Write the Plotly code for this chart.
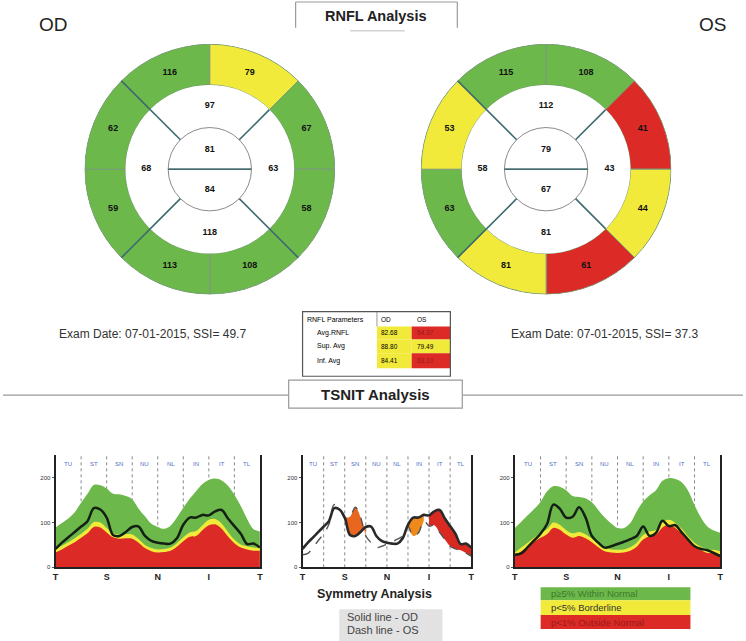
import plotly.graph_objects as go

W, H = 746, 641
def px(x): return x / W
def py(y): return 1 - y / H

# ---------------- DATA ----------------
od_sectors = ["ST", "SN", "NU", "NL", "IN", "IT", "TL", "TU"]
od_sector_vals = [116, 79, 67, 58, 108, 113, 59, 62]
od_sector_class = ["G", "Y", "G", "G", "G", "G", "G", "G"]
od_quadrant_vals = [97, 63, 118, 68]          # superior, right, inferior, left
od_center_vals = [81, 84]                      # upper, lower

os_sectors = ["SN", "ST", "TU", "TL", "IT", "IN", "NL", "NU"]
os_sector_vals = [115, 108, 41, 44, 61, 81, 63, 53]
os_sector_class = ["G", "G", "R", "Y", "R", "Y", "G", "Y"]
os_quadrant_vals = [112, 43, 81, 58]
os_center_vals = [79, 67]

sector_theta = [112.5, 67.5, 22.5, -22.5, -67.5, -112.5, -157.5, 157.5]
quadrant_theta = [90, 0, 270, 180]

exam_od = "Exam Date: 07-01-2015, SSI= 49.7"
exam_os = "Exam Date: 07-01-2015, SSI= 37.3"

table_rows = ["RNFL Parameters", "Avg.RNFL", "Sup. Avg", "Inf. Avg"]
table_od = ["OD", "82.68", "88.80", "84.41"]
table_os = ["OS", "64.37", "79.49", "63.10"]
table_od_class = ["H", "Y", "Y", "Y"]
table_os_class = ["H", "R", "Y", "R"]

tsnit_x = [0, 8, 16, 24, 32, 40, 48, 56, 64, 72, 80, 88, 96, 104, 112, 120, 128,
           136, 144, 152, 160, 168, 176, 184, 192, 200, 208, 216, 224, 232, 240, 248, 256]
tsnit_ticks = [0, 64, 128, 192, 256]
tsnit_ticktext = ["T", "S", "N", "I", "T"]
tsnit_sector_labels = ["TU", "ST", "SN", "NU", "NL", "IN", "IT", "TL"]

od_p95 = [89, 99, 109, 123, 144, 164, 184, 183, 176, 164, 163, 159, 152, 131, 114, 97, 90,
          86, 93, 111, 133, 153, 170, 186, 195, 198, 194, 182, 162, 137, 108, 85, 80]
od_p5 = [40, 48, 56, 65, 75, 86, 101, 100, 88, 76, 73, 74, 73, 63, 50, 43, 40,
         41, 44, 54, 67, 78, 81, 94, 106, 108, 98, 79, 62, 51, 47, 44, 44]
od_p1 = [33, 40, 48, 56, 66, 76, 90, 89, 78, 67, 64, 65, 64, 55, 43, 36, 33,
         34, 37, 46, 58, 68, 70, 83, 94, 96, 86, 69, 54, 44, 40, 37, 37]
od_thick = [41, 55, 67, 79, 91, 103, 132, 129, 111, 72, 70, 79, 90, 91, 70, 59, 55,
            53, 53, 65, 95, 111, 111, 117, 116, 125, 128, 109, 92, 75, 52, 53, 44]

os_p95 = [88, 102, 116, 130, 146, 169, 181, 180, 172, 159, 157, 154, 145, 128, 111, 98, 88,
          88, 99, 125, 147, 161, 172, 193, 199, 197, 190, 171, 139, 111, 91, 82, 77]
os_p5 = [33, 44, 55, 66, 76, 85, 100, 95, 83, 76, 79, 74, 64, 53, 44, 40, 39,
         40, 45, 55, 72, 80, 83, 100, 106, 99, 86, 69, 55, 46, 40, 39, 36]
os_p1 = [25, 36, 46, 57, 66, 74, 88, 84, 73, 66, 70, 65, 56, 45, 36, 33, 32,
         33, 37, 46, 62, 70, 73, 89, 95, 88, 76, 60, 47, 38, 32, 32, 29]
os_thick = [28, 31, 45, 60, 75, 96, 140, 131, 111, 113, 134, 112, 70, 55, 44, 47, 52,
            57, 63, 70, 91, 70, 77, 104, 92, 94, 78, 62, 47, 41, 38, 32, 25]

# asymmetry regions (index ranges on tsnit_x) for the symmetry chart
asym_regions = [(8, 12), (20, 23), (24, 32)]
asym_colors = ["#e8661e", "#ef8a1a", "#d92a22"]

legend_labels = ["p\u22655% Within Normal", "p<5% Borderline", "p<1% Outside Normal"]

# ---------------- STYLE ----------------
GREEN, YELLOW, RED = "#6cb84b", "#f2ea3a", "#dc2a26"
CLS = {"G": GREEN, "Y": YELLOW, "R": RED, "H": "#f4f4f4"}
FONT = "Liberation Sans, Arial, sans-serif"
BLUE = "#5170c8"
TEAL = "#3d6b6e"

fig = go.Figure()

def add_ring(polar, sectors, vals, cls, quads, centers, long_diag):
    fig.add_trace(go.Barpolar(r=[41] * 8, base=[85] * 8, theta=sector_theta, width=[45] * 8,
                              marker=dict(color=[CLS[c] for c in cls],
                                          line=dict(color="#7a9a7a", width=1)),
                              subplot=polar, hoverinfo="skip"))
    fig.add_trace(go.Barpolar(r=[43] * 4, base=[42] * 4, theta=quadrant_theta, width=[90] * 4,
                              marker=dict(color="white", line=dict(color="white", width=0)),
                              subplot=polar, hoverinfo="skip"))
    fig.add_trace(go.Barpolar(r=[42, 42], base=[0, 0], theta=[90, 270], width=[180, 180],
                              marker=dict(color="white", line=dict(color="#8a8a8a", width=1)),
                              subplot=polar, hoverinfo="skip"))
    for ang in [45, 135, 225, 315]:
        rr = 126 if ang in long_diag else 85
        fig.add_trace(go.Scatterpolar(r=[42, rr], theta=[ang, ang], mode="lines",
                                      line=dict(color=TEAL, width=1.6), subplot=polar,
                                      hoverinfo="skip"))
    fig.add_trace(go.Scatterpolar(r=[42, 0, 42], theta=[180, 0, 0], mode="lines",
                                  line=dict(color=TEAL, width=1.6), subplot=polar,
                                  hoverinfo="skip"))
    fig.add_trace(go.Scatterpolar(r=[105.5] * 8, theta=sector_theta, mode="text",
                                  text=[f"<b>{v}</b>" for v in vals],
                                  textfont=dict(size=9, color="#111", family=FONT),
                                  subplot=polar, hoverinfo="skip"))
    fig.add_trace(go.Scatterpolar(r=[139] * 8, theta=sector_theta, mode="text",
                                  text=sectors, cliponaxis=False,
                                  textfont=dict(size=7, color=BLUE, family=FONT),
                                  subplot=polar, hoverinfo="skip"))
    fig.add_trace(go.Scatterpolar(r=[64] * 4, theta=quadrant_theta, mode="text",
                                  text=[f"<b>{v}</b>" for v in quads],
                                  textfont=dict(size=9, color="#111", family=FONT),
                                  subplot=polar, hoverinfo="skip"))
    fig.add_trace(go.Scatterpolar(r=[20, 21], theta=[90, 270], mode="text",
                                  text=[f"<b>{v}</b>" for v in centers],
                                  textfont=dict(size=9, color="#111", family=FONT),
                                  subplot=polar, hoverinfo="skip"))

add_ring("polar", od_sectors, od_sector_vals, od_sector_class, od_quadrant_vals,
         od_center_vals, [135, 225, 315])
add_ring("polar2", os_sectors, os_sector_vals, os_sector_class, os_quadrant_vals,
         os_center_vals, [135, 225])

polar_common = dict(
    radialaxis=dict(range=[0, 126.5], visible=False),
    angularaxis=dict(visible=False, direction="counterclockwise", rotation=0),
    bgcolor="rgba(0,0,0,0)", bargap=0, hole=0,
)
fig.update_layout(
    polar=dict(domain=dict(x=[px(82), px(335)], y=[py(296.5), py(43.5)]), **polar_common),
    polar2=dict(domain=dict(x=[px(421), px(674)], y=[py(296.5), py(43.5)]), **polar_common),
)

# ---------------- TSNIT charts ----------------
def band_chart(xa, ya, p95, p5, p1, thick):
    for vals, col in [(p95, GREEN), (p5, YELLOW), (p1, RED)]:
        fig.add_trace(go.Scatter(x=tsnit_x, y=vals, mode="lines", fill="tozeroy",
                                 fillcolor=col, line=dict(width=0, shape="spline"),
                                 xaxis=xa, yaxis=ya, hoverinfo="skip"))
    fig.add_trace(go.Scatter(x=tsnit_x, y=thick, mode="lines",
                             line=dict(color="#152015", width=2.5, shape="spline"),
                             xaxis=xa, yaxis=ya, hoverinfo="skip"))

band_chart("x", "y", od_p95, od_p5, od_p1, od_thick)
band_chart("x3", "y3", os_p95, os_p5, os_p1, os_thick)

for (a, b), col in zip(asym_regions, asym_colors):
    fig.add_trace(go.Scatter(x=tsnit_x[a:b + 1], y=os_thick[a:b + 1], mode="lines",
                             line=dict(width=0, shape="spline"), xaxis="x2", yaxis="y2",
                             hoverinfo="skip"))
    fig.add_trace(go.Scatter(x=tsnit_x[a:b + 1], y=od_thick[a:b + 1], mode="lines",
                             fill="tonexty", fillcolor=col,
                             line=dict(width=1, color="#f2e040", shape="spline"),
                             xaxis="x2", yaxis="y2", hoverinfo="skip"))
fig.add_trace(go.Scatter(x=tsnit_x, y=os_thick, mode="lines",
                         line=dict(color="#555", width=1.4, dash="dash", shape="spline"),
                         xaxis="x2", yaxis="y2", hoverinfo="skip"))
fig.add_trace(go.Scatter(x=tsnit_x, y=od_thick, mode="lines",
                         line=dict(color="#2a2a2a", width=2.6, shape="spline"),
                         xaxis="x2", yaxis="y2", hoverinfo="skip"))

ydom = [py(570), py(457)]
xdoms = {"": [px(53), px(259)], "2": [px(302), px(472)], "3": [px(516), px(723)]}
for k, dom in xdoms.items():
    fig.layout["xaxis" + k] = dict(
        domain=dom, range=[0, 256], anchor="y" + k, tickvals=tsnit_ticks,
        ticktext=[f"<b>{t}</b>" for t in tsnit_ticktext],
        tickfont=dict(size=9, color="#222", family=FONT), showline=True,
        linecolor="#222", linewidth=2, showgrid=False, zeroline=False, ticks="")
    fig.layout["yaxis" + k] = dict(
        domain=ydom, range=[0, 251], anchor="x" + k, tickvals=[0, 100, 200],
        tickfont=dict(size=6, color="#333", family=FONT), showline=True, mirror=True,
        linecolor="#222", linewidth=2, showgrid=False, zeroline=False,
        ticks="outside", ticklen=2, tickcolor="#555")
    for i in range(1, 8):
        fig.add_shape(type="line", xref="x" + k, yref=f"y{k} domain", x0=32 * i, x1=32 * i,
                      y0=0, y1=1, line=dict(color="#888", width=1, dash="dot"), layer="below")
    for i, lab in enumerate(tsnit_sector_labels):
        fig.add_annotation(x=16 + 32 * i, y=0.965, xref="x" + k, yref=f"y{k} domain",
                           text=lab, showarrow=False,
                           font=dict(size=6, color=BLUE, family=FONT))

# ---------------- text & boxes ----------------
def txt(x, y, s, size, color="#222", bold=False, xanchor="center"):
    fig.add_annotation(x=px(x), y=py(y), xref="paper", yref="paper",
                       text=f"<b>{s}</b>" if bold else s, showarrow=False,
                       xanchor=xanchor, yanchor="middle",
                       font=dict(size=size, color=color, family=FONT))

def rect(x0, y0, x1, y1, fill=None, line="#888", width=1):
    fig.add_shape(type="rect", xref="paper", yref="paper", x0=px(x0), x1=px(x1),
                  y0=py(y1), y1=py(y0), fillcolor=fill or "rgba(0,0,0,0)",
                  line=dict(color=line, width=width))

def hline(x0, x1, y, color="#888", width=1):
    fig.add_shape(type="line", xref="paper", yref="paper", x0=px(x0), x1=px(x1),
                  y0=py(y), y1=py(y), line=dict(color=color, width=width))

def vline(x, y0, y1, color="#888", width=1):
    fig.add_shape(type="line", xref="paper", yref="paper", x0=px(x), x1=px(x),
                  y0=py(y0), y1=py(y1), line=dict(color=color, width=width))

txt(51, 25, "OD", 19, "#222")
txt(715, 25, "OS", 19, "#222")

vline(295, 2, 28, "#999", 1.2)
vline(458, 2, 28, "#999", 1.2)
hline(295, 458, 2, "#999", 1.2)
hline(350, 405, 31, "#bbb", 1)
txt(376, 16, "RNFL Analysis", 14.5, "#222", bold=True)

txt(151, 336, exam_od, 12, "#333")
txt(606, 336, exam_os, 12, "#333")

tx0, tc1, tc2, tx1 = 302, 377, 412, 451
row_y = [313, 328, 341, 355, 370]
for i in range(4):
    y0, y1 = row_y[i], row_y[i + 1]
    if table_od_class[i] != "H":
        rect(tc1, y0, tc2, y1, fill=CLS[table_od_class[i]], line="rgba(0,0,0,0)", width=0)
    if table_os_class[i] != "H":
        rect(tc2, y0, tx1, y1, fill=CLS[table_os_class[i]], line="rgba(0,0,0,0)", width=0)
    ym = (y0 + y1) / 2
    txt(tx0 + 2 if i == 0 else tx0 + 13, ym, table_rows[i], 7, "black", xanchor="left")
    txt(tc1 + 2, ym, table_od[i], 6.5, "black", xanchor="left")
    txt(tc2 + 3, ym, table_os[i], 6.5,
        "#9a1a1a" if table_os_class[i] == "R" else "black", xanchor="left")
vline(tc1, 313, 328, "#999", 1)
rect(tx0, 313, tx1, 378, line="#555", width=1.2)

hline(0, 288, 397, "#999", 1.2)
hline(463, 746, 397, "#999", 1.2)
rect(288, 382, 463, 410, fill="white", line="#999", width=1.2)
txt(376, 396, "TSNIT Analysis", 15, "#222", bold=True)

txt(375, 597, "Symmetry Analysis", 12.5, "#222", bold=True)
rect(339, 612, 443, 645, fill="#e2e2e2", line="rgba(0,0,0,0)", width=0)
txt(383, 620, "Solid line - OD", 11, "#444")
txt(383, 633, "Dash line - OS", 11, "#444")

leg_y = [590, 603, 618, 632]
leg_fill = [GREEN, YELLOW, RED]
leg_text_col = ["#3d7a2a", "#333", "#9a1a1a"]
for i, lab in enumerate(legend_labels):
    rect(542, leg_y[i], 693, leg_y[i + 1], fill=leg_fill[i], line="rgba(0,0,0,0)", width=0)
    txt(550, (leg_y[i] + leg_y[i + 1]) / 2, lab, 9.5, leg_text_col[i], xanchor="left")

fig.update_layout(
    width=W, height=H, margin=dict(l=0, r=0, t=0, b=0),
    paper_bgcolor="white", plot_bgcolor="white", showlegend=False,
    font=dict(family=FONT), hovermode=False,
)

fig.write_html("out.html", config={"displayModeBar": False},
               post_script="document.body.style.margin='0';")
